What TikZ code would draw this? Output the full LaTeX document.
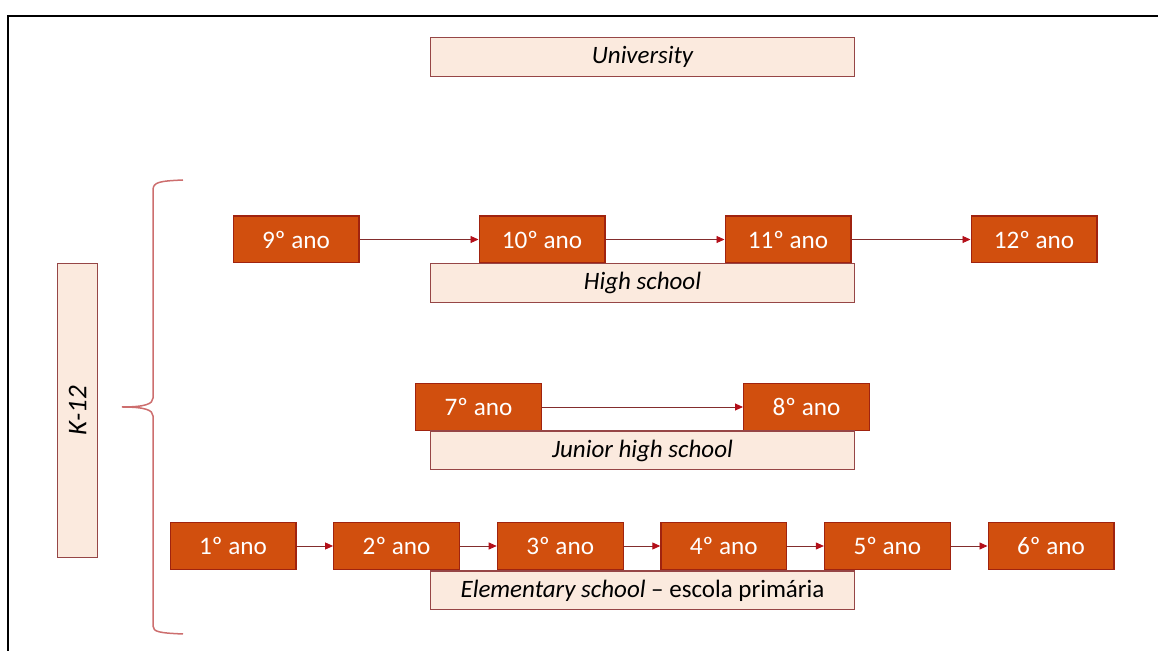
\documentclass[tikz,border=0pt]{standalone}
\usepackage{fontspec}
\setmainfont{Carlito}
\usetikzlibrary{positioning,arrows.meta}
\definecolor{gradeorange}{RGB}{209,79,14}
\definecolor{gradeborder}{RGB}{160,35,15}
\definecolor{peach}{RGB}{251,234,222}
\definecolor{peachborder}{RGB}{150,70,70}
\definecolor{bracered}{RGB}{205,110,110}
\definecolor{arrowred}{RGB}{130,45,45}
\definecolor{headred}{RGB}{180,15,25}

\begin{document}
\begin{tikzpicture}[x=0.5pt, y=-0.5pt,
	grade/.style={draw=gradeborder, fill=gradeorange, text=white, minimum width=62.9pt, minimum height=23.4pt, inner sep=0pt, line width=0.6pt, font=\fontsize{12.6}{14}\selectfont},
	stage/.style={draw=peachborder, fill=peach, minimum width=211.9pt, minimum height=19.4pt, inner sep=0pt, line width=0.6pt, font=\fontsize{12.5}{14}\selectfont\itshape},
	next/.style={-{Triangle[length=4pt,width=3.5pt,color=headred]}, draw=arrowred, line width=0.45pt},
	]
	\useasboundingbox (0,0) rectangle (1158,651);
	\draw[line width=1pt] (8,16) rectangle (1300,800);

	\node[stage] (uni) at (642.5,57) {University};

	% high school
	\node[grade] (g9) at (296,239.5) {9º ano};
	\node[grade, right=59.5pt of g9] (g10) {10º ano};
	\node[grade, right=59.5pt of g10] (g11) {11º ano};
	\node[grade, right=59.5pt of g11] (g12) {12º ano};
	\node[stage] (high) at (642.5,283) {High school};

	% junior high
	\node[grade] (g7) at (478.5,407) {7º ano};
	\node[grade, right=100.5pt of g7] (g8) {8º ano};
	\node[stage] (junior) at (642.5,450.5) {Junior high school};

	% elementary
	\node[grade] (g1) at (233,546) {1º ano};
	\node[grade, right=18.3pt of g1] (g2) {2º ano};
	\node[grade, right=18.3pt of g2] (g3) {3º ano};
	\node[grade, right=18.3pt of g3] (g4) {4º ano};
	\node[grade, right=18.3pt of g4] (g5) {5º ano};
	\node[grade, right=18.3pt of g5] (g6) {6º ano};
	\node[stage] (elem) at (642.5,590.5) {Elementary school {\upshape – escola primária}};

	\draw[next] (g9) -- (g10);
	\draw[next] (g10) -- (g11);
	\draw[next] (g11) -- (g12);
	\draw[next] (g7) -- (g8);
	\draw[next] (g1) -- (g2);
	\draw[next] (g2) -- (g3);
	\draw[next] (g3) -- (g4);
	\draw[next] (g4) -- (g5);
	\draw[next] (g5) -- (g6);

	% K-12 brace
	\node[stage, rotate=90, minimum width=147pt, minimum height=20pt, font=\fontsize{13.5}{15}\selectfont\itshape] (k12) at (77.5,410.5) {K-12};
	\coordinate (tip) at (122,407);
	\draw[bracered, line width=0.75pt] (183,180) .. controls (160,181) and (153,182) .. (153,190) -- (153,398)
		.. controls (153,404) and (145,407) .. (tip) .. controls (145,407) and (153,410) .. (153,416)
		-- (153,626) .. controls (153,632) and (160,633) .. (183,634);
\end{tikzpicture}
\end{document}
